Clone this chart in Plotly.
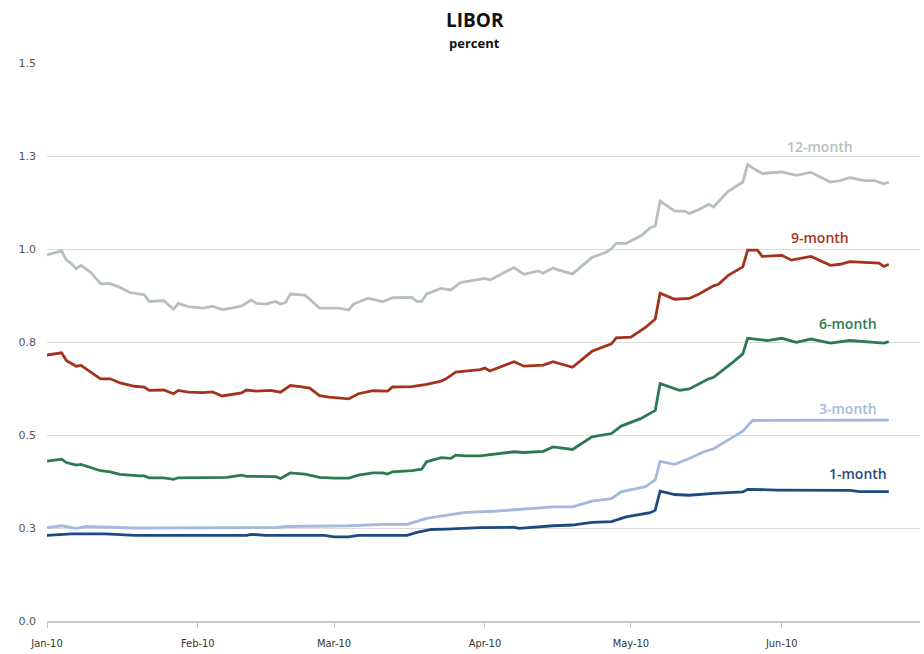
import plotly.graph_objects as go

# USD LIBOR fixings, Jan-Jun 2010 (percent)
dates_12m = ["2010-01-01", "2010-01-04", "2010-01-05", "2010-01-06", "2010-01-07", "2010-01-08",
             "2010-01-10", "2010-01-12", "2010-01-14", "2010-01-16", "2010-01-18", "2010-01-21",
             "2010-01-22", "2010-01-25", "2010-01-27", "2010-01-28", "2010-01-30", "2010-02-02",
             "2010-02-04", "2010-02-06", "2010-02-08", "2010-02-10", "2010-02-12", "2010-02-13",
             "2010-02-15", "2010-02-17", "2010-02-18", "2010-02-19", "2010-02-20", "2010-02-23",
             "2010-02-24", "2010-02-26", "2010-03-02", "2010-03-04", "2010-03-05", "2010-03-08",
             "2010-03-11", "2010-03-13", "2010-03-17", "2010-03-18", "2010-03-19", "2010-03-20",
             "2010-03-23", "2010-03-25", "2010-03-27", "2010-03-30", "2010-04-01", "2010-04-02",
             "2010-04-07", "2010-04-09", "2010-04-12", "2010-04-13", "2010-04-15", "2010-04-16",
             "2010-04-19", "2010-04-23", "2010-04-26", "2010-04-27", "2010-04-28", "2010-04-30",
             "2010-05-03", "2010-05-05", "2010-05-06", "2010-05-07", "2010-05-10", "2010-05-12",
             "2010-05-13", "2010-05-15", "2010-05-17", "2010-05-18", "2010-05-21", "2010-05-24",
             "2010-05-25", "2010-05-26", "2010-05-28", "2010-06-01", "2010-06-04", "2010-06-07",
             "2010-06-11", "2010-06-13", "2010-06-15", "2010-06-18", "2010-06-20", "2010-06-22",
             "2010-06-23"]
libor_12m = [0.984, 0.995, 0.970, 0.961, 0.947, 0.956,
             0.937, 0.907, 0.907, 0.897, 0.883, 0.877,
             0.859, 0.861, 0.838, 0.854, 0.845, 0.841,
             0.846, 0.837, 0.841, 0.847, 0.863, 0.854,
             0.852, 0.859, 0.852, 0.856, 0.879, 0.876,
             0.865, 0.841, 0.841, 0.836, 0.852, 0.868,
             0.858, 0.869, 0.870, 0.859, 0.859, 0.879,
             0.894, 0.890, 0.910, 0.917, 0.921, 0.917,
             0.950, 0.932, 0.941, 0.935, 0.949, 0.944,
             0.933, 0.977, 0.992, 1.001, 1.015, 1.015,
             1.035, 1.057, 1.062, 1.129, 1.102, 1.102,
             1.095, 1.106, 1.120, 1.113, 1.155, 1.180,
             1.227, 1.218, 1.203, 1.207, 1.198, 1.206,
             1.180, 1.184, 1.192, 1.184, 1.184, 1.175,
             1.180]

dates_9m = ["2010-01-01", "2010-01-04", "2010-01-05", "2010-01-07", "2010-01-08", "2010-01-12",
            "2010-01-14", "2010-01-16", "2010-01-19", "2010-01-21", "2010-01-22", "2010-01-25",
            "2010-01-27", "2010-01-28", "2010-01-30", "2010-02-02", "2010-02-04", "2010-02-06",
            "2010-02-10", "2010-02-11", "2010-02-13", "2010-02-16", "2010-02-18", "2010-02-20",
            "2010-02-22", "2010-02-24", "2010-02-26", "2010-02-28", "2010-03-04", "2010-03-06",
            "2010-03-09", "2010-03-12", "2010-03-13", "2010-03-17", "2010-03-20", "2010-03-23",
            "2010-03-24", "2010-03-26", "2010-03-31", "2010-04-01", "2010-04-02", "2010-04-07",
            "2010-04-09", "2010-04-13", "2010-04-15", "2010-04-19", "2010-04-23", "2010-04-27",
            "2010-04-28", "2010-05-01", "2010-05-04", "2010-05-06", "2010-05-07", "2010-05-10",
            "2010-05-13", "2010-05-15", "2010-05-18", "2010-05-19", "2010-05-21", "2010-05-24",
            "2010-05-25", "2010-05-27", "2010-05-28", "2010-06-01", "2010-06-03", "2010-06-07",
            "2010-06-11", "2010-06-13", "2010-06-15", "2010-06-18", "2010-06-21", "2010-06-22",
            "2010-06-23"]
libor_9m = [0.715, 0.721, 0.700, 0.685, 0.687, 0.651,
            0.651, 0.640, 0.631, 0.629, 0.620, 0.621,
            0.611, 0.620, 0.615, 0.614, 0.616, 0.605,
            0.613, 0.621, 0.618, 0.620, 0.615, 0.633,
            0.630, 0.626, 0.606, 0.602, 0.597, 0.611,
            0.619, 0.618, 0.629, 0.630, 0.636, 0.645,
            0.651, 0.669, 0.676, 0.680, 0.672, 0.697,
            0.685, 0.688, 0.697, 0.682, 0.725, 0.745,
            0.761, 0.763, 0.789, 0.812, 0.881, 0.865,
            0.867, 0.879, 0.901, 0.905, 0.929, 0.952,
            0.997, 0.997, 0.980, 0.983, 0.970, 0.980,
            0.956, 0.959, 0.966, 0.964, 0.962, 0.953,
            0.959]

dates_6m = ["2010-01-01", "2010-01-04", "2010-01-05", "2010-01-07", "2010-01-08", "2010-01-12",
            "2010-01-14", "2010-01-16", "2010-01-20", "2010-01-21", "2010-01-22", "2010-01-25",
            "2010-01-27", "2010-01-28", "2010-02-07", "2010-02-10", "2010-02-11", "2010-02-17",
            "2010-02-18", "2010-02-20", "2010-02-23", "2010-02-26", "2010-03-01", "2010-03-04",
            "2010-03-06", "2010-03-09", "2010-03-11", "2010-03-12", "2010-03-13", "2010-03-17",
            "2010-03-19", "2010-03-20", "2010-03-23", "2010-03-25", "2010-03-26", "2010-03-28",
            "2010-03-31", "2010-04-02", "2010-04-07", "2010-04-09", "2010-04-13", "2010-04-15",
            "2010-04-19", "2010-04-23", "2010-04-27", "2010-04-29", "2010-05-03", "2010-05-06",
            "2010-05-07", "2010-05-11", "2010-05-13", "2010-05-17", "2010-05-18", "2010-05-22",
            "2010-05-24", "2010-05-25", "2010-05-28", "2010-05-29", "2010-06-01", "2010-06-04",
            "2010-06-07", "2010-06-11", "2010-06-15", "2010-06-19", "2010-06-22", "2010-06-23"]
libor_6m = [0.430, 0.435, 0.426, 0.419, 0.421, 0.404,
            0.401, 0.394, 0.390, 0.390, 0.385, 0.385,
            0.381, 0.385, 0.386, 0.392, 0.389, 0.388,
            0.383, 0.398, 0.395, 0.386, 0.384, 0.384,
            0.392, 0.398, 0.398, 0.395, 0.401, 0.404,
            0.408, 0.428, 0.439, 0.437, 0.446, 0.444,
            0.444, 0.447, 0.455, 0.453, 0.456, 0.468,
            0.461, 0.495, 0.504, 0.524, 0.544, 0.566,
            0.638, 0.620, 0.624, 0.651, 0.655, 0.696,
            0.718, 0.760, 0.756, 0.754, 0.760, 0.749,
            0.758, 0.747, 0.754, 0.749, 0.747, 0.751]

dates_3m = ["2010-01-01", "2010-01-04", "2010-01-07", "2010-01-09", "2010-01-19", "2010-02-17",
            "2010-02-19", "2010-03-04", "2010-03-11", "2010-03-16", "2010-03-20", "2010-03-24",
            "2010-03-28", "2010-04-03", "2010-04-09", "2010-04-15", "2010-04-19", "2010-04-23",
            "2010-04-27", "2010-04-29", "2010-05-04", "2010-05-06", "2010-05-07", "2010-05-10",
            "2010-05-13", "2010-05-16", "2010-05-18", "2010-05-22", "2010-05-24", "2010-05-26",
            "2010-05-28", "2010-06-03", "2010-06-13", "2010-06-23"]
libor_3m = [0.251, 0.256, 0.249, 0.254, 0.250, 0.251,
            0.254, 0.256, 0.260, 0.260, 0.276, 0.284,
            0.292, 0.295, 0.300, 0.307, 0.307, 0.322,
            0.329, 0.347, 0.361, 0.379, 0.429, 0.421,
            0.437, 0.455, 0.463, 0.495, 0.510, 0.539,
            0.539, 0.539, 0.538, 0.540]

dates_1m = ["2010-01-01", "2010-01-06", "2010-01-13", "2010-01-19", "2010-02-11", "2010-02-12",
            "2010-02-15", "2010-02-27", "2010-03-01", "2010-03-04", "2010-03-06", "2010-03-16",
            "2010-03-18", "2010-03-21", "2010-03-24", "2010-03-28", "2010-03-31", "2010-04-07",
            "2010-04-08", "2010-04-15", "2010-04-19", "2010-04-23", "2010-04-27", "2010-04-30",
            "2010-05-05", "2010-05-06", "2010-05-07", "2010-05-10", "2010-05-13", "2010-05-18",
            "2010-05-24", "2010-05-25", "2010-05-27", "2010-05-31", "2010-06-15", "2010-06-17",
            "2010-06-23"]
libor_1m = [0.230, 0.234, 0.234, 0.230, 0.230, 0.233,
            0.230, 0.230, 0.226, 0.226, 0.230, 0.230,
            0.238, 0.246, 0.247, 0.249, 0.251, 0.252,
            0.249, 0.256, 0.258, 0.265, 0.267, 0.280,
            0.291, 0.298, 0.349, 0.340, 0.338, 0.343,
            0.347, 0.354, 0.353, 0.352, 0.351, 0.348,
            0.348]

series_names = ["12-month", "9-month", "6-month", "3-month", "1-month"]
series_colors = ["#b6c0bb", "#a5321c", "#2b7a52", "#a3b9de", "#1e4a80"]

y_tickvals = [0.0, 0.25, 0.5, 0.75, 1.0, 1.25, 1.5]
y_ticktext = ["0.0", "0.3", "0.5", "0.8", "1.0", "1.3", "1.5"]

all_dates = [dates_12m, dates_9m, dates_6m, dates_3m, dates_1m]
all_values = [libor_12m, libor_9m, libor_6m, libor_3m, libor_1m]

fig = go.Figure()
for name, color, xs, ys in zip(series_names, series_colors, all_dates, all_values):
    fig.add_trace(go.Scatter(x=xs, y=ys, mode="lines", name=name,
                             line=dict(color=color, width=2.8), hoverinfo="x+y+name"))

# Series labels placed above the right end of each line
label_pos = {  # name: (paper x, paper y)
    "12-month": (0.885, 0.850),
    "9-month": (0.886, 0.688),
    "6-month": (0.918, 0.533),
    "3-month": (0.918, 0.381),
    "1-month": (0.929, 0.264),
}
for name, color in zip(series_names, series_colors):
    px, py = label_pos[name]
    fig.add_annotation(x=px, y=py, xref="paper", yref="paper", text=name, showarrow=False,
                       xanchor="center", yanchor="middle",
                       font=dict(family="Open Sans", size=14, color=color, weight=600))

# Title and unit line above the plot area
fig.add_annotation(x=0.49, y=1.077, xref="paper", yref="paper", text="<b>LIBOR</b>",
                   showarrow=False, xanchor="center", yanchor="middle",
                   font=dict(family="Open Sans", size=19, color="#111111"))
fig.add_annotation(x=0.49, y=1.036, xref="paper", yref="paper", text="<b>percent</b>",
                   showarrow=False, xanchor="center", yanchor="middle",
                   font=dict(family="Open Sans", size=13, color="#111111"))

fig.update_layout(
    width=924, height=654,
    margin=dict(l=47, r=4, t=63, b=31),
    paper_bgcolor="white", plot_bgcolor="white",
    showlegend=False,
    xaxis=dict(type="date", range=["2010-01-01", "2010-06-29 10:00"],
               tick0="2010-01-01", dtick="M1", tickformat="%b-%y",
               showgrid=False, zeroline=False,
               showline=True, linecolor="#c8c8c8", linewidth=1.5,
               ticks="outside", ticklen=5, tickcolor="#c8c8c8", ticklabelstandoff=6,
               tickfont=dict(family="DejaVu Sans Condensed, DejaVu Sans", size=11, color="#333333")),
    yaxis=dict(range=[0, 1.5], tickmode="array", tickvals=y_tickvals, ticktext=y_ticktext,
               showgrid=True, gridcolor="#dcdcdc", gridwidth=1, zeroline=False,
               showline=False, ticks="", ticklabelstandoff=10,
               tickfont=dict(family="DejaVu Sans", size=11, color="#555555")),
)

fig.write_html("out.html")
